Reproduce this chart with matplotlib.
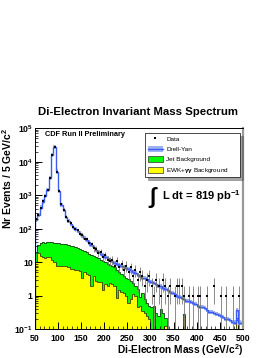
import numpy as np
import matplotlib
matplotlib.use("Agg")
import matplotlib.pyplot as plt
from matplotlib.patches import Patch
from matplotlib.lines import Line2D

# =========================
# DATA (5 GeV bins, 50-500 GeV)
# =========================
bin_edges = np.arange(50, 505, 5)
bin_centres = bin_edges[:-1] + 2.5

drell_yan = [185, 260, 430, 650, 970, 1450, 3300, 16000, 27000, 5100,
             1300, 520, 370, 220, 175, 140, 115, 100, 86, 74,
             63, 54, 46, 39, 33, 28, 24, 20.5, 18, 16,
             14.5, 13, 11.8, 10.6, 9.7, 9.0, 8.4, 7.8, 7.2, 6.7,
             6.2, 5.7, 5.2, 4.7, 4.3, 3.9, 3.5, 3.4, 3.1, 2.8,
             2.6, 2.4, 2.2, 2.0, 1.9, 1.75, 1.6, 1.45, 1.3, 1.2,
             1.1, 1.0, 0.93, 0.87, 0.8, 0.72, 0.68, 0.66, 0.62, 0.56,
             0.5, 0.47, 0.45, 0.42, 0.38, 0.34, 0.33, 0.31, 0.29, 0.27,
             0.25, 0.23, 0.21, 0.2, 0.19, 0.17, 0.16, 0.38, 0.16, 0.15]

data_counts = [190, 265, 420, 660, 980, 1430, 3350, 15800, 27200, 5050,
               1320, 530, 360, 225, 170, 145, 112, 98, 90, 70,
               66, 50, 48, 37, 35, 26, 25, 19, 20, 14,
               16, 12, 11, 12, 8, 11, 7, 9, 6, 8,
               5, 7, 4, 6, 3, 5, 4, 2, 3, 4,
               2, 1, 3, 2, 1, 3, 2, 1, 2, 0,
               1, 2, 2, 2, 1, 0, 1, 0, 1, 0,
               1, 1, 0, 0, 1, 0, 0, 2, 0, 0,
               1, 0, 1, 0, 0, 1, 0, 0, 1, 0]

ewk_bkg = [10, 19, 15, 14, 13, 14, 14, 12, 10, 8,
           8, 7.5, 8, 7.5, 7, 6.5, 6.5, 6, 6, 5.5,
           3.4, 5, 4.5, 4.2, 1.9, 4, 2.8, 2.6, 2.5, 1.5,
           2.2, 2.0, 2.4, 2.2, 2.0, 0.87, 1.5, 1.3, 1.2, 1.0,
           0.6, 0.8, 1.1, 1.0, 0.45, 0.5, 0.35, 0.3, 0.25, 0.2,
           0, 0.45, 0, 0, 0, 0, 0.13, 0, 0, 0,
           0, 0, 0, 0, 0.25, 0, 0, 0, 0, 0,
           0, 0, 0, 0, 0, 0, 0, 0, 0, 0,
           0, 0, 0, 0, 0, 0, 0, 0.19, 0, 0]

jet_bkg = [9, 14, 23, 26, 25, 26, 25, 29, 28, 30,
           29, 28.5, 26, 27.5, 26, 24.5, 23.5, 22, 21, 19.5,
           19.6, 17, 15.5, 13.8, 14.1, 11, 11.2, 10.4, 9.5, 9.5,
           7.8, 7, 6.1, 5.3, 5, 5.1, 3.5, 3.2, 2.8, 2.5,
           2.6, 2.0, 1.3, 1.0, 1.15, 0.4, 0.85, 0.5, 0.35, 0.3,
           0.45, 0.05, 0.3, 0.25, 0.4, 0.3, 0.09, 0, 0, 0,
           0, 0, 0, 0, 0.03, 0, 0, 0, 0, 0,
           0, 0, 0, 0, 0, 0, 0, 0, 0, 0,
           0, 0, 0, 0, 0, 0, 0, 0.03, 0, 0]

# =========================
# STYLE
# =========================
plt.rcParams["font.family"] = ["Liberation Sans", "DejaVu Sans"]
plt.rcParams["font.weight"] = "bold"
plt.rcParams["mathtext.fontset"] = "custom"
plt.rcParams["mathtext.rm"] = "Liberation Sans:bold"
plt.rcParams["mathtext.it"] = "Liberation Sans:bold"
plt.rcParams["mathtext.bf"] = "Liberation Sans:bold"

floor = 1e-3
dy = np.array(drell_yan, dtype=float)
ewk = np.array(ewk_bkg, dtype=float)
total_bkg = ewk + np.array(jet_bkg, dtype=float)
counts = np.array(data_counts, dtype=float)

fig = plt.figure(figsize=(2.77, 3.58), dpi=100)
ax = fig.add_axes([0.126, 0.08, 0.751, 0.562])

# stacked backgrounds
ax.stairs(np.where(total_bkg > 0, total_bkg, floor), bin_edges, baseline=floor,
          fill=True, color="#00ff00")
ax.stairs(np.where(total_bkg > 0, total_bkg, floor), bin_edges, baseline=floor,
          color="#1a3a1a", lw=0.6)
ax.stairs(np.where(ewk > 0, ewk, floor), bin_edges, baseline=floor,
          fill=True, color="#ffff00")
ax.stairs(np.where(ewk > 0, ewk, floor), bin_edges, baseline=floor,
          color="#3a3a10", lw=0.6)

# Drell-Yan band + line
ax.stairs(dy * 1.15, bin_edges, baseline=dy * 0.87, fill=True,
          color="#9db3f0", lw=0)
ax.stairs(dy, bin_edges, color="#3c5cf0", lw=1.0)

# data
mask = counts > 0
n = counts[mask]
err = np.sqrt(n)
lower = n - np.maximum(n - err, floor)
ax.errorbar(bin_centres[mask], n, yerr=[lower, err], fmt="s",
            ms=1.5, mew=0, color="black", ecolor="#777777", elinewidth=0.6,
            capsize=0, zorder=5)

# =========================
# AXES
# =========================
ax.set_yscale("log")
ax.set_xlim(50, 500)
ax.set_ylim(0.1, 1e5)
ax.set_xticks(np.arange(50, 501, 50))
ax.set_xticks(np.arange(50, 501, 10), minor=True)
ax.set_yticks([0.1, 1, 10, 100, 1e3, 1e4, 1e5])
ax.set_yticklabels([r"10$^{-1}$", "1", "10", r"10$^{2}$", r"10$^{3}$",
                    r"10$^{4}$", r"10$^{5}$"])
ax.tick_params(which="both", direction="in", labelsize=6.3, pad=1.5)
ax.tick_params(axis="x", which="both", pad=3)
ax.tick_params(which="major", length=5, width=0.7)
ax.tick_params(which="minor", length=2.5, width=0.5)
for lab in ax.get_xticklabels() + ax.get_yticklabels():
    lab.set_fontweight("bold")
ax.spines["right"].set_color("#999999")
ax.spines["right"].set_linewidth(1.6)
for s in ["left", "top", "bottom"]:
    ax.spines[s].set_linewidth(0.7)

ax.set_xlabel(r"Di-Electron Mass (GeV/c$^{2}$)", fontsize=7.3,
              fontweight="bold", loc="right", labelpad=-0.5)
ax.set_ylabel(r"Nr Events / 5 GeV/c$^{2}$", fontsize=7.5,
              fontweight="bold", loc="top", labelpad=0)

fig.text(0.5, 0.687, "Di-Electron Invariant Mass Spectrum", ha="center",
         va="center", fontsize=8.2, fontweight="bold")

ax.text(0.048, 0.985, "CDF Run II Preliminary", transform=ax.transAxes,
        ha="left", va="top", fontsize=5.3, fontweight="bold")

ax.text(0.545, 0.655, r"$\int$", transform=ax.transAxes, ha="left",
        va="center", fontsize=16)
ax.text(0.61, 0.66, r"L dt = 819 pb$^{-1}$", transform=ax.transAxes,
        ha="left", va="center", fontsize=8, fontweight="bold")

handles = [
    Line2D([], [], marker="s", ls="none", ms=1.5, mew=0, color="black"),
    (Patch(facecolor="#9db3f0", edgecolor="none"),
     Line2D([], [], color="#3c5cf0", lw=1.0)),
    Patch(facecolor="#00ff00", edgecolor="#333333", lw=0.5),
    Patch(facecolor="#ffff00", edgecolor="#333333", lw=0.5),
]
labels = ["Data", "Drell-Yan", "Jet Background", r"EWK+$\gamma\gamma$ Background"]
leg = ax.legend(handles, labels, loc="upper left",
                bbox_to_anchor=(0.53, 0.743, 0.455, 0.232), mode="expand",
                fontsize=4.6, frameon=True, fancybox=False, shadow=True,
                borderpad=0.4, labelspacing=0.55, handlelength=2.4,
                handleheight=1.2, handletextpad=0.5, borderaxespad=0)
leg.get_frame().set_edgecolor("black")
leg.get_frame().set_linewidth(0.5)
for t in leg.get_texts():
    t.set_fontweight("normal")

fig.savefig("out.png", dpi=100)
